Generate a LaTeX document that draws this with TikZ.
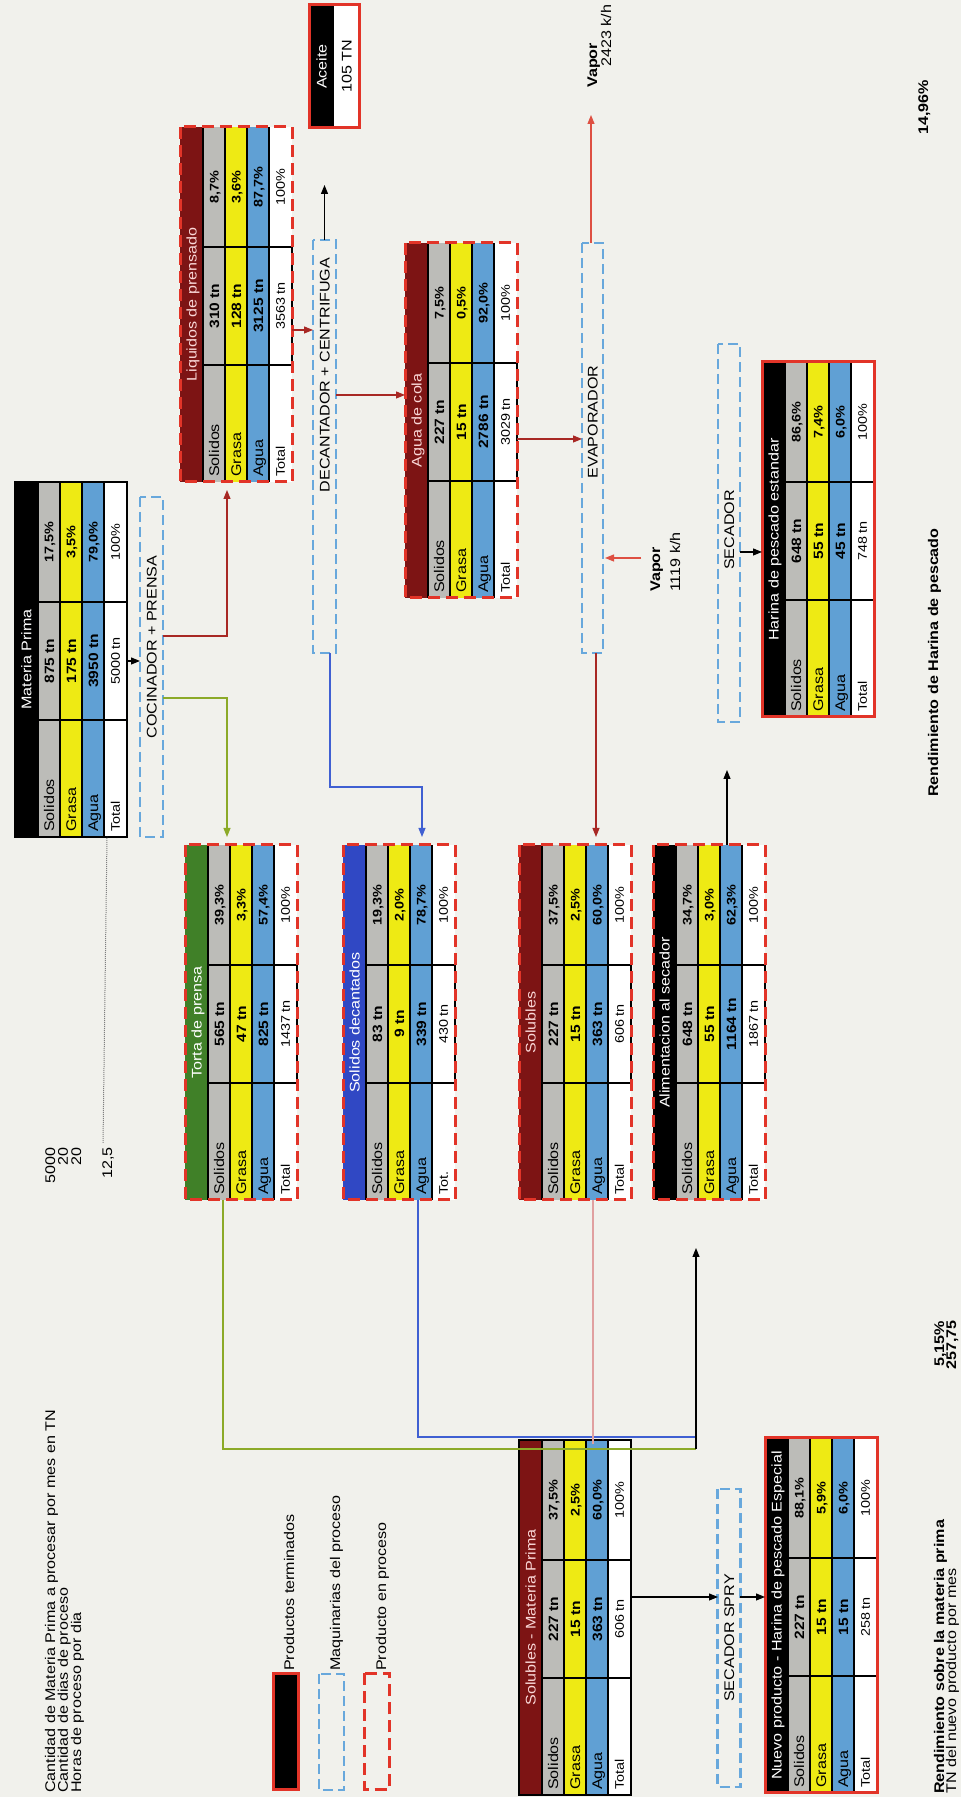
\documentclass[tikz,border=0pt]{standalone}
\usepackage{fontspec}
\setmainfont{Liberation Sans}[FakeStretch=1.15]
\usetikzlibrary{arrows.meta,calc}
\definecolor{bg}{RGB}{241,241,236}
\definecolor{cgray}{RGB}{188,188,184}
\definecolor{cyel}{RGB}{238,234,20}
\definecolor{cblue}{RGB}{96,160,212}
\definecolor{cmaroon}{RGB}{125,20,20}
\definecolor{cgreen}{RGB}{64,128,40}
\definecolor{croyal}{RGB}{48,72,196}
\definecolor{cred}{RGB}{226,52,40}
\definecolor{cdash}{RGB}{104,168,220}
\definecolor{cpink}{RGB}{250,215,215}
\definecolor{darr}{RGB}{168,40,36}
\definecolor{garr}{RGB}{140,170,40}
\definecolor{barr}{RGB}{64,96,210}
\definecolor{varr}{RGB}{222,80,66}
\definecolor{parr}{RGB}{224,160,160}
\newcommand\fs[1]{\fontsize{#1}{#1}\selectfont}
\def\totlab{Total}
\newcommand\tbl[9]{%
  \fill[#1] (0,0) rectangle (355,-23);
  \fill[cgray] (0,-23) rectangle (355,-45);
  \fill[cyel] (0,-45) rectangle (355,-67);
  \fill[cblue] (0,-67) rectangle (355,-89);
  \fill[white] (0,-89) rectangle (355,-112);
  \draw[line width=1.1] (0,-45) -- (355,-45) (0,-67) -- (355,-67);
  \draw[line width=2.4] (0,-23) -- (355,-23) (0,-89) -- (355,-89);
  \draw[line width=1.6] (117,-23) -- (117,-112) -- (235,-112) -- (235,-23);
  \node[hdr,htc] (\tname-h) at (177.5,-16.5) {#2};
  \node[lab] (\tname-l1) at (5,-39) {Solidos};
  \node[lab] (\tname-l2) at (5,-61) {Grasa};
  \node[lab] (\tname-l3) at (5,-83) {Agua};
  \node[labt] (\tname-l4) at (5,-104.8) {\totlab};
  \node[val] (\tname-v1) at (176,-39) {#3};
  \node[val] (\tname-v2) at (176,-61) {#5};
  \node[val] (\tname-v3) at (176,-83) {#7};
  \node[valt] (\tname-v4) at (176,-104.8) {#9};
  \node[pct] (\tname-p1) at (295,-38.5) {#4};
  \node[pct] (\tname-p2) at (295,-60.5) {#6};
  \node[pct] (\tname-p3) at (295,-82.5) {#8};
  \node[pctt] (\tname-p4) at (295,-104.8) {100\%};
  \node[inner sep=0,minimum width=118,minimum height=23] (\tname-t) at (176,-100.5) {};
  \node[tfr,inner sep=0,minimum width=355,minimum height=112] (\tname) at (177.5,-56) {};
}
\begin{document}
\begin{tikzpicture}[x=1pt,y=1pt,
  txt/.style={font=\fs{14},inner sep=0},
  txtb/.style={font=\bfseries\fs{14},inner sep=0},
  hdr/.style={font=\fs{14},inner sep=0,anchor=base},
  lab/.style={font=\fs{14},inner sep=0,anchor=base west},
  labt/.style={font=\fs{12.5},inner sep=0,anchor=base west},
  val/.style={font=\bfseries\fs{13.5},inner sep=0,anchor=base},
  valt/.style={font=\fs{12.5},inner sep=0,anchor=base},
  pct/.style={font=\bfseries\fs{12.5},inner sep=0,anchor=base},
  pctt/.style={font=\fs{12.5},inner sep=0,anchor=base},
  reddash/.style={draw=cred,line width=3,dash pattern=on 12pt off 6pt},
  redsolid/.style={draw=cred,line width=3},
  blacksolid/.style={draw=black,line width=2.6},
  mach/.style={draw=cdash,line width=2.2,dash pattern=on 10pt off 5pt,inner sep=0},
  machtxt/.style={font=\fs{14},inner sep=0},
  arr/.style={line width=1.1,-{Triangle[length=9pt,width=7pt]}},
  htc/.style={text=white},
  tfr/.style={reddash}
]
\fill[bg] (0,0) rectangle (961,1797);
\useasboundingbox (0,0) rectangle (961,1797);
\begin{scope}[rotate=90,transform shape]
% ---------- header texts ----------
\node[txt,anchor=base west] (t1) at (4,-55) {Cantidad de Materia Prima a procesar por mes en TN};
\node[txt,anchor=base west] (t2) at (4,-68) {Cantidad de dias de proceso};
\node[txt,anchor=base west] (t3) at (4,-81) {Horas de proceso por dia};
\node[txt,anchor=base east] (n1) at (650,-55) {5000};
\node[txt,anchor=base east] (n2) at (650,-68) {20};
\node[txt,anchor=base east] (n3) at (650,-81) {20};
\node[txt,anchor=base east] (n4) at (650,-112) {12,5};
% ---------- legend ----------
\node[fill=black,draw=cred,line width=3,minimum width=116,minimum height=25,inner sep=0,anchor=north west] (lg1) at (6,-272) {};
\node[txt,anchor=base west] (lg1t) at (126,-294) {Productos terminados};
\node[mach,minimum width=116,minimum height=25,anchor=north west] (lg2) at (6,-318) {};
\node[txt,anchor=base west] (lg2t) at (126,-340) {Maquinarias del proceso};
\node[reddash,minimum width=116,minimum height=25,inner sep=0,anchor=north west] (lg3) at (6,-363) {};
\node[txt,anchor=base west] (lg3t) at (126,-386) {Producto en proceso};
% ---------- tables ----------
\def\tname{mp}
\begin{scope}[shift={(960,-15)},tfr/.style={blacksolid}]
\tbl{black}{Materia Prima}{875 tn}{17,5\%}{175 tn}{3,5\%}{3950 tn}{79,0\%}{5000 tn}
\end{scope}
\def\tname{liq}
\begin{scope}[shift={(1315,-180)},htc/.style={text=cpink}]
\tbl{cmaroon}{Liquidos de prensado}{310 tn}{8,7\%}{128 tn}{3,6\%}{3125 tn}{87,7\%}{3563 tn}
\end{scope}
\def\tname{torta}
\begin{scope}[shift={(597,-185)}]
\tbl{cgreen}{Torta de prensa}{565 tn}{39,3\%}{47 tn}{3,3\%}{825 tn}{57,4\%}{1437 tn}
\end{scope}
\def\tname{sdec}\def\totlab{Tot.}
\begin{scope}[shift={(597,-343)}]
\tbl{croyal}{Solidos decantados}{83 tn}{19,3\%}{9 tn}{2,0\%}{339 tn}{78,7\%}{430 tn}
\end{scope}
\def\totlab{Total}
\def\tname{agua}
\begin{scope}[shift={(1199,-405)},htc/.style={text=cpink}]
\tbl{cmaroon}{Agua de cola}{227 tn}{7,5\%}{15 tn}{0,5\%}{2786 tn}{92,0\%}{3029 tn}
\end{scope}
\def\tname{sol}
\begin{scope}[shift={(597,-519)},htc/.style={text=cpink}]
\tbl{cmaroon}{Solubles}{227 tn}{37,5\%}{15 tn}{2,5\%}{363 tn}{60,0\%}{606 tn}
\end{scope}
\def\tname{alim}
\begin{scope}[shift={(597,-653)}]
\tbl{black}{Alimentacion al secador}{648 tn}{34,7\%}{55 tn}{3,0\%}{1164 tn}{62,3\%}{1867 tn}
\end{scope}
\def\tname{har}
\begin{scope}[shift={(1080,-762)},tfr/.style={redsolid}]
\tbl{black}{Harina de pescado estandar}{648 tn}{86,6\%}{55 tn}{7,4\%}{45 tn}{6,0\%}{748 tn}
\end{scope}
\def\tname{smp}
\begin{scope}[shift={(2,-519)},tfr/.style={blacksolid},htc/.style={text=cpink}]
\tbl{cmaroon}{Solubles - Materia Prima}{227 tn}{37,5\%}{15 tn}{2,5\%}{363 tn}{60,0\%}{606 tn}
\end{scope}
\def\tname{nuevo}
\begin{scope}[shift={(4,-765)},tfr/.style={redsolid}]
\tbl{black}{Nuevo producto - Harina de pescado Especial}{227 tn}{88,1\%}{15 tn}{5,9\%}{15 tn}{6,0\%}{258 tn}
\end{scope}
% ---------- aceite ----------
\fill[black] (1669,-309) rectangle (1792,-334);
\fill[white] (1669,-334) rectangle (1792,-359);
\node[txt,text=white,anchor=base] (acet) at (1730.5,-326.5) {Aceite};
\node[txt,anchor=base] (acev) at (1730.5,-351.5) {105 TN};
\node[redsolid,inner sep=0,minimum width=123,minimum height=50] (ace) at (1730.5,-334) {};
% ---------- machines ----------
\node[mach,minimum width=340,minimum height=23] (coc) at (1130,-151.5) {};
\node[machtxt,anchor=base] (coct) at (1150,-156.5) {COCINADOR + PRENSA};
\node[mach,minimum width=413,minimum height=23] (dec) at (1350.5,-324.5) {};
\node[machtxt,anchor=base] (dect) at (1422,-329.5) {DECANTADOR + CENTRIFUGA};
\node[mach,minimum width=410,minimum height=21] (evap) at (1349,-592.5) {};
\node[machtxt,anchor=base] (evapt) at (1375,-597.5) {EVAPORADOR};
\node[mach,minimum width=378,minimum height=22] (sec) at (1264,-729) {};
\node[machtxt,anchor=base] (sect) at (1267,-734) {SECADOR};
\node[mach,minimum width=298,minimum height=23] (spry) at (159,-729) {};
\node[machtxt,anchor=base] (spryt) at (159,-734) {SECADOR SPRY};
% ---------- vapor labels ----------
\node[txtb,anchor=base west] (vap1) at (1709,-597) {Vapor};
\node[txt,anchor=base west] (vap1n) at (1730,-611) {2423 k/h};
\node[txtb,anchor=base west] (vap2) at (1205,-660) {Vapor};
\node[txt,anchor=base west] (vap2n) at (1205,-680) {1119 k/h};
% ---------- bottom texts ----------
\node[txtb,anchor=base west] (r1) at (3,-944) {Rendimiento sobre la materia prima};
\node[txt,anchor=base west] (r2) at (3,-956) {TN del nuevo producto por mes};
\node[txtb,anchor=base east] (r1v) at (476,-944) {5,15\%};
\node[txtb,anchor=base east] (r2v) at (477,-956) {257,75};
\node[txtb,anchor=base west] (r3) at (1000,-938) {Rendimiento de Harina de pescado};
\node[txtb,anchor=base east] (r3v) at (1717,-928) {14,96\%};
% ---------- connectors ----------
\draw[densely dotted,gray,line width=1] (n4.east) ++(4,5) coordinate (d0) -- (960,-107) coordinate (d1);
\draw[arr] (1136,-127) coordinate (a0) -- (1136,-140) coordinate (a1);
\draw[arr,garr] (1099,-163) coordinate (g0) -- (1099,-227) -- (960,-227) coordinate (g1);
\draw[arr,darr] (1161,-163) coordinate (m0) -- (1161,-227) -- (1307,-227) coordinate (m1);
\draw[arr,darr] (1467,-292) coordinate (m2) -- (1467,-313) coordinate (m3);
\draw[arr] (1557,-324.5) coordinate (k0) -- (1612,-324.5) coordinate (k1);
\draw[arr,darr] (1402,-336) coordinate (m4) -- (1402,-405) coordinate (m5);
\draw[arr,barr] (1144,-330) coordinate (b0) -- (1010,-330) -- (1010,-422) -- (960,-422) coordinate (b1);
\draw[arr,darr] (1358,-517) coordinate (m6) -- (1358,-582) coordinate (m7);
\draw[arr,varr] (1554,-591) coordinate (v0) -- (1682,-591) coordinate (v1);
\draw[arr,darr] (1144,-596) coordinate (m8) -- (960,-596) coordinate (m9);
\draw[arr] (952,-727) coordinate (s0) -- (1027,-727) coordinate (s1);
\draw[arr] (1245,-740) coordinate (s2) -- (1245,-762) coordinate (s3);
\draw[arr,varr] (1239,-641) coordinate (v2) -- (1239,-605) coordinate (v3);
\draw[garr,line width=1.1] (597,-223) coordinate (e0) -- (348,-223) -- (348,-696) coordinate (e1);
\draw[barr,line width=1.1] (597,-418) coordinate (e2) -- (360,-418) -- (360,-696);
\draw[parr,line width=1.1] (597,-593) coordinate (e3) -- (353,-593);
\draw[arr] (e1) -- (549,-696) coordinate (e4);
\draw[arr] (200,-631) coordinate (p0) -- (200,-718) coordinate (p1);
\draw[arr] (200,-740) coordinate (p2) -- (200,-765) coordinate (p3);
\end{scope}
\end{tikzpicture}
\end{document}
